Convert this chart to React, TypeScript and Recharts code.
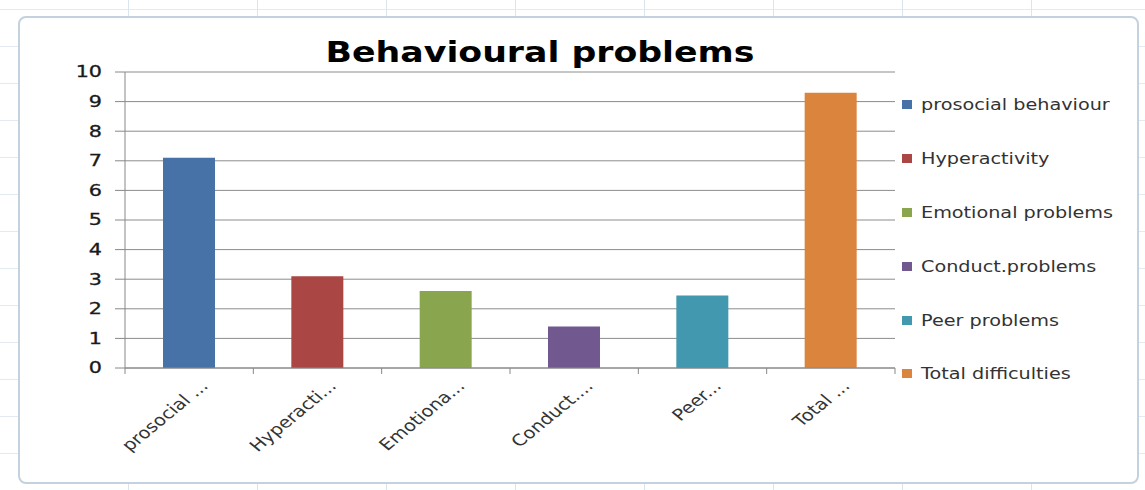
import { BarChart, Bar, Cell, XAxis, YAxis, CartesianGrid, Legend } from "recharts"

const categories = ["prosocial behaviour", "Hyperactivity", "Emotional problems", "Conduct.problems", "Peer problems", "Total difficulties"]
const tickLabels = ["prosocial ...", "Hyperacti...", "Emotiona...", "Conduct....", "Peer...", "Total ..."]
const scores = [7.1, 3.1, 2.6, 1.4, 2.45, 9.3]
const barColors = ["#4672A8", "#AA4644", "#89A54E", "#71588F", "#4198AF", "#DB843D"]
const yTicks = [0, 1, 2, 3, 4, 5, 6, 7, 8, 9, 10]

const data = categories.map((name, i) => ({ name, short: tickLabels[i], score: scores[i] }))

const FONT = "'DejaVu Sans', Verdana, sans-serif"

// the source picture is stretched sideways, so text gets a horizontal scale
function XTick(props: any) {
    const { x, y, payload, index } = props
    const off = payload && payload.offset ? payload.offset : 770 / 12
    return (
        <g>
            <line x1={x - off} y1={y} x2={x - off} y2={y + 6} stroke="#888" />
            {index === categories.length - 1 && <line x1={x + off} y1={y} x2={x + off} y2={y + 6} stroke="#888" />}
            <text transform={`translate(${x + 20},${y + 19}) scale(1.22,1) rotate(-45)`} textAnchor="end" fontSize={16} fill="#333" fontFamily={FONT}>
                {tickLabels[index]}
            </text>
        </g>
    )
}

function YTick(props: any) {
    const { x, y, payload } = props
    return (
        <text transform={`translate(${x},${y}) scale(1.38,1)`} textAnchor="end" dy="0.36em" fontSize={15} fill="#1a1a1a" fontFamily={FONT} stroke="#1a1a1a" strokeWidth={0.3}>
            {payload.value}
        </text>
    )
}

function LegendBox() {
    return (
        <div style={{ fontFamily: FONT, fontSize: 16, color: "#333" }}>
            {categories.map((c, i) => (
                <div key={c} style={{ height: 53.8, display: "flex", alignItems: "center" }}>
                    <span style={{ width: 10, height: 9, background: barColors[i], display: "inline-block", marginRight: 9 }} />
                    <span style={{ whiteSpace: "nowrap", display: "inline-block", transform: "scaleX(1.2)", transformOrigin: "left center" }}>{c}</span>
                </div>
            ))}
        </div>
    )
}

export default function App() {
    return (
        <div style={{
            position: "absolute", left: 0, top: 0, width: 1145, height: 490, overflow: "hidden",
            background: "#fff",
            backgroundImage: "repeating-linear-gradient(90deg, transparent 0 128px, #dbe5ee 128px 129px), repeating-linear-gradient(0deg, transparent 0 36px, #e3eaf1 36px 37px)",
        }}>
            <div style={{
                position: "absolute", left: 18, top: 16, width: 1117, height: 464,
                border: "2px solid #c3d2de", borderRadius: 8, background: "#fff",
            }} />
            <div style={{
                position: "absolute", left: 240, width: 600, top: 36, textAlign: "center",
                fontFamily: FONT, fontWeight: "bold", fontSize: 28, color: "#000",
                transform: "scaleX(1.24)", transformOrigin: "300px 0",
            }}>
                Behavioural problems
            </div>
            <div style={{ position: "absolute", left: 0, top: 0 }}>
                <BarChart width={1145} height={490} data={data} margin={{ top: 72, right: 250, left: 0, bottom: 0 }}>
                    <CartesianGrid vertical={false} stroke="#8c8c8c" />
                    <XAxis dataKey="name" height={122} stroke="#888" tickLine={false} tickSize={0} tickMargin={0} tick={<XTick />} interval={0} />
                    <YAxis width={125} domain={[0, 10]} ticks={yTicks} interval={0} stroke="#888" tickSize={10} tickMargin={13}
                        tick={<YTick />} />
                    <Legend layout="horizontal" verticalAlign="middle" content={<LegendBox />}
                        wrapperStyle={{ position: "absolute", left: 902, top: 78, width: 240, height: 330 }} />
                    <Bar dataKey="score" barSize={52} isAnimationActive={false}>
                        {data.map((d, i) => <Cell key={d.name} fill={barColors[i]} />)}
                    </Bar>
                </BarChart>
            </div>
        </div>
    )
}
